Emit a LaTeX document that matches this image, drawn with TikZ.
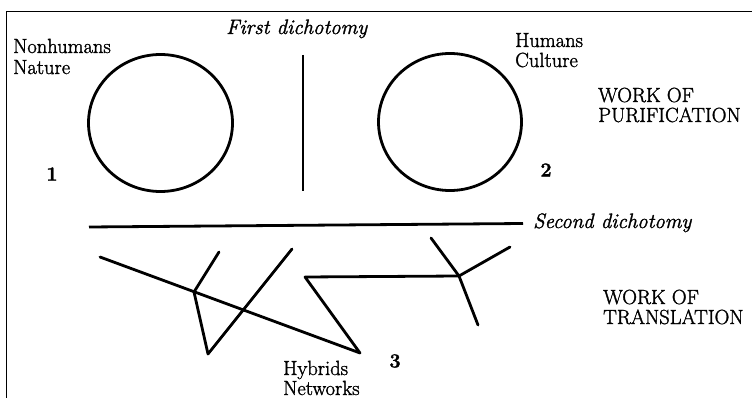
\documentclass[tikz,border=0pt]{standalone}
\usepackage{fontspec}
\setmainfont{Latin Modern Roman}[FakeBold=1.5]
\usetikzlibrary{shapes.geometric}
\begin{document}
\begin{tikzpicture}[x=1pt,y=-1pt,
  frameline/.style={line width=1.2pt},
  thick stroke/.style={line width=2.8pt, line cap=round, line join=round},
  ring/.style={draw, ellipse, line width=2.8pt, inner sep=0pt},
  lbl/.style={anchor=base west, inner sep=0pt, font=\fontsize{20.5}{19}\selectfont},
  ilbl/.style={anchor=base west, inner sep=0pt, font=\fontsize{20.8}{19}\selectfont\itshape},
  num/.style={inner sep=0pt, font=\fontsize{20}{20}\selectfont\bfseries}]
\useasboundingbox (0,0) rectangle (752,398);
% frame
\coordinate (fTL) at (6.5,11.5);
\coordinate (fTR) at (752,11.5);
\coordinate (fBL) at (6.5,398);
\draw[frameline] (fTR) -- (fTL) -- (fBL);
% circles
\node[ring, minimum width=144pt, minimum height=137pt] (nature) at (160.5,123) {};
\node[ring, minimum width=143pt, minimum height=137pt] (culture) at (450,122) {};
% first dichotomy
\coordinate (d1top) at (303,55);
\coordinate (d1bot) at (303,191);
\draw[thick stroke, line cap=butt] (d1top) -- (d1bot);
% second dichotomy
\coordinate (d2l) at (89,227);
\coordinate (d2r) at (523,223.5);
\draw[thick stroke, line cap=butt] (d2l) -- (d2r);
% network
\coordinate (A) at (100,257);
\coordinate (B) at (360,353);
\coordinate (C) at (305,277);
\coordinate (J) at (459,276);
\coordinate (J1) at (431,238);
\coordinate (J2) at (510,247);
\coordinate (J3) at (478,325);
\coordinate (K) at (194,292);
\coordinate (K1) at (219,252);
\coordinate (L) at (208,354);
\coordinate (M) at (292,249);
\draw[thick stroke] (A) -- (B) -- (C) -- (J);
\draw[thick stroke] (J1) -- (J) -- (J3);
\draw[thick stroke] (J) -- (J2);
\draw[thick stroke] (K1) -- (K) -- (L) -- (M);
% labels
\node[ilbl] (first) at (226,34) {First dichotomy};
\node[lbl] (nonhumans) at (13,53) {Nonhumans};
\node[lbl] (naturelbl) at (13,74) {Nature};
\node[lbl] (humans) at (515,47) {Humans};
\node[lbl] (culturelbl) at (515,67) {Culture};
\node[lbl] (wop1) at (598,102) {WORK OF};
\node[lbl] (wop2) at (598,122) {PURIFICATION};
\node[num] (n1) at (52,174) {1};
\node[num] (n2) at (546,170) {2};
\node[num] (n3) at (395,361) {3};
\node[ilbl] (second) at (533,228) {Second dichotomy};
\node[lbl] (wot1) at (603,304) {WORK OF};
\node[lbl] (wot2) at (603,324) {TRANSLATION};
\node[lbl] (hybrids) at (283,375) {Hybrids};
\node[lbl] (networks) at (283,395) {Networks};
\end{tikzpicture}
\end{document}
